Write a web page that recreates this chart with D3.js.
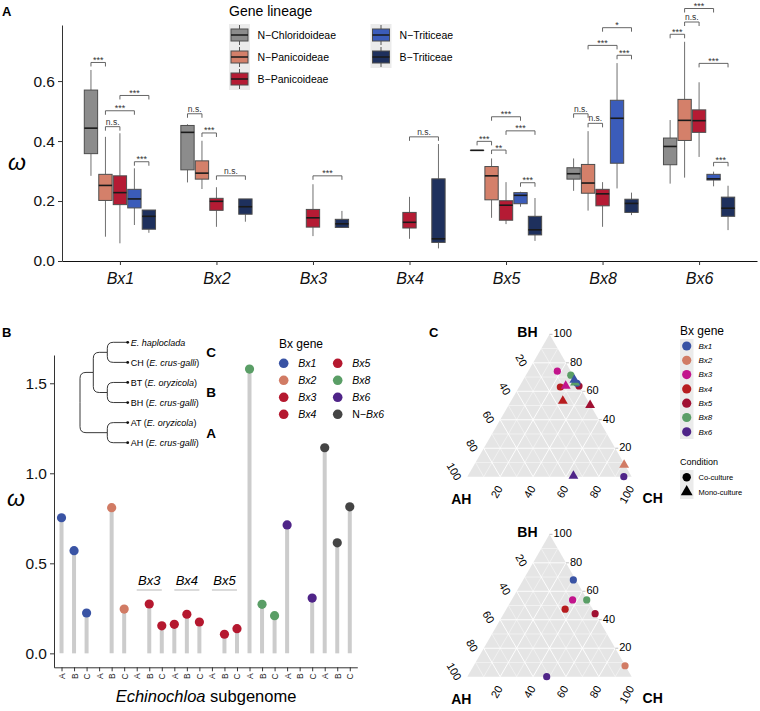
<!DOCTYPE html>
<html><head><meta charset="utf-8">
<script src="https://cdn.jsdelivr.net/npm/d3@7"></script>
<style>body{margin:0;background:#fff}svg{display:block}text{font-family:"Liberation Sans",Arial,Helvetica,sans-serif}</style>
</head><body><svg id="c" width="760" height="711"></svg>
<script>
// ---------------- Panel A data ----------------
const genesA = ["Bx1","Bx2","Bx3","Bx4","Bx5","Bx8","Bx6"];
const lineages = ["N-Chloridoideae","N-Panicoideae","B-Panicoideae","N-Triticeae","B-Triticeae"];
const lineageLabels = ["N\u2212Chloridoideae","N\u2212Panicoideae","B\u2212Panicoideae","N\u2212Triticeae","B\u2212Triticeae"];
const lineageColors = ["#8c8c8c","#d4806a","#b51b34","#3b5cba","#1e305d"];
const boxGene    = ["Bx1","Bx1","Bx1","Bx1","Bx1","Bx2","Bx2","Bx2","Bx2","Bx3","Bx3","Bx4","Bx4","Bx5","Bx5","Bx5","Bx5","Bx5","Bx8","Bx8","Bx8","Bx8","Bx8","Bx6","Bx6","Bx6","Bx6","Bx6"];
const boxLineage = [0,1,2,3,4, 0,1,2,4, 2,4, 2,4, 0,1,2,3,4, 0,1,2,3,4, 0,1,2,3,4];
const boxMin = [0.284,0.081,0.059,0.120,0.094, 0.262,0.240,0.114,0.131, 0.083,0.110, 0.074,0.042, 0.369,0.144,0.123,0.181,0.067, 0.234,0.168,0.114,0.242,0.153, 0.258,0.278,0.347,0.249,0.103];
const boxQ1  = [0.358,0.202,0.188,0.177,0.106, 0.304,0.273,0.169,0.156, 0.113,0.112, 0.110,0.062, 0.369,0.204,0.136,0.191,0.087, 0.273,0.226,0.184,0.326,0.162, 0.321,0.402,0.429,0.270,0.149];
const boxMed = [0.443,0.252,0.228,0.207,0.149, 0.429,0.293,0.199,0.181, 0.144,0.124, 0.129,0.074, 0.369,0.284,0.186,0.219,0.104, 0.291,0.260,0.224,0.476,0.192, 0.382,0.469,0.468,0.274,0.176];
const boxQ3  = [0.570,0.289,0.284,0.239,0.170, 0.452,0.334,0.209,0.207, 0.172,0.139, 0.162,0.274, 0.369,0.315,0.201,0.228,0.149, 0.311,0.322,0.239,0.536,0.206, 0.410,0.539,0.504,0.289,0.213];
const boxMax = [0.637,0.414,0.426,0.309,0.170, 0.456,0.401,0.246,0.207, 0.256,0.167, 0.214,0.390, 0.369,0.342,0.263,0.231,0.210, 0.342,0.433,0.263,0.660,0.228, 0.470,0.731,0.596,0.298,0.251];
// significance brackets
const sigGene = ["Bx1","Bx1","Bx1","Bx1","Bx1","Bx2","Bx2","Bx2","Bx3","Bx4","Bx5","Bx5","Bx5","Bx5","Bx5","Bx8","Bx8","Bx8","Bx8","Bx8","Bx6","Bx6","Bx6","Bx6","Bx6"];
const sigFrom = [0,1,1,2,3, 0,1,2, 2, 2, 0,1,1,2,3, 0,1,1,2,3, 0,1,1,2,3];
const sigTo   = [1,2,3,4,4, 1,2,4, 4, 4, 1,2,3,4,4, 1,2,3,4,4, 1,2,3,4,4];
const sigY    = [0.662,0.448,0.501,0.552,0.331, 0.491,0.427,0.284, 0.284, 0.414, 0.399,0.370,0.481,0.434,0.261, 0.491,0.459,0.719,0.778,0.686, 0.756,0.797,0.842,0.659,0.329];
const sigLab  = ["***","n.s.","***","***","***", "n.s.","***","n.s.", "***", "n.s.", "***","**","***","***","***", "n.s.","n.s.","***","*","***", "***","n.s.","***","***","***"];
const yTicksA = [0, 0.2, 0.4, 0.6];

// ---------------- Panel B data ----------------
const lolliGenes = ["Bx1","Bx2","Bx3","Bx4","Bx5","Bx8","Bx6","N-Bx6"];
const subgenomes = ["A","B","C"];
const lolliA = [0.753, null, null, 0.161, null, 1.579, 0.713, 1.142];
const lolliB = [0.570, 0.809, 0.274, 0.217, 0.106, 0.272, null, 0.614];
const lolliC = [0.224, 0.246, 0.153, 0.174, 0.137, 0.209, 0.307, 0.814];
const lolliColors = ["#3953a4","#d17b64","#b5182f","#b5182f","#b5182f","#5a9e66","#4f2488","#444444"];
const lolliLegend = ["Bx1","Bx2","Bx3","Bx4","Bx5","Bx8","Bx6","N\u2212Bx6"];
const labelledGenes = ["Bx3","Bx4","Bx5"];
const yTicksB = [0, 0.5, 1.0, 1.5];
// tree (branch lengths)
const tree = {name:"root", len:0, children:[
  {name:"CB", len:0.133, children:[
    {name:"C", len:0.14, children:[{name:"E. haploclada", len:0.204},{name:"CH", sp:"E. crus-galli", len:0.204}]},
    {name:"B", len:0.14, children:[{name:"BT", sp:"E. oryzicola", len:0.204},{name:"BH", sp:"E. crus-galli", len:0.204}]}
  ]},
  {name:"A", len:0.273, children:[{name:"AT", sp:"E. oryzicola", len:0.204},{name:"AH", sp:"E. crus-galli", len:0.204}]}
]};
const cladeLabels = ["C","B","A"];

// ---------------- Panel C data ----------------
const ternGenes = ["Bx1","Bx2","Bx3","Bx4","Bx5","Bx8","Bx6"];
const ternColors = ["#3953a4","#d17b64","#c2148c","#b71c1f","#a01032","#5a9e66","#4f2488"];
// top plot
const t1Gene = ["Bx3","Bx8","Bx4","Bx5","Bx1","Bx6","Bx8","Bx1","Bx3","Bx4","Bx5","Bx2","Bx6"];
const t1Cond = ["Co","Co","Co","Co","Co","Co","Mono","Mono","Mono","Mono","Mono","Mono","Mono"];
const t1AH = [0.082,0.014,0.119,0.002,0.005,0.048, 0.014,0.009,0.083,0.153,0.002,0.005,0.352];
const t1BH = [0.741,0.713,0.630,0.637,0.656,0.000, 0.661,0.680,0.637,0.532,0.502,0.082,0.005];
const t1CH = [0.177,0.273,0.251,0.361,0.339,0.952, 0.325,0.311,0.280,0.315,0.496,0.913,0.643];
// bottom plot
const t2Gene = ["Bx1","Bx3","Bx8","Bx4","Bx5","Bx2","Bx6"];
const t2AH = [0.015,0.090,0.004,0.168,0.001,0.002,0.517];
const t2BH = [0.680,0.539,0.539,0.474,0.443,0.077,0.000];
const t2CH = [0.305,0.371,0.457,0.358,0.556,0.921,0.483];
const ternTicks = [20,40,60,80,100];
const conditions = ["Co-culture","Mono-culture"];

const svg = d3.select("#c");
const FONT = '"Liberation Sans",Arial,sans-serif';

// ================= PANEL A =================
const gA = svg.append("g");
const xA = d3.scalePoint().domain(genesA).range([62,757]).padding(0.6);
const yA = d3.scaleLinear().domain([0,0.787]).range([261,25]);
const slot = d3.scaleBand().domain(d3.range(5)).range([-0.375*xA.step(), 0.375*xA.step()]);
const cxA = (g,l) => xA(g) + slot(l) + slot.bandwidth()/2;
const bwA = slot.bandwidth()*0.92;

boxGene.forEach((g,i)=>{
  const cx = cxA(g, boxLineage[i]);
  const grp = gA.append("g");
  grp.append("line").attr("x1",cx).attr("x2",cx).attr("y1",yA(boxMax[i])).attr("y2",yA(boxQ3[i])).attr("stroke","#707070").attr("stroke-width",1);
  grp.append("line").attr("x1",cx).attr("x2",cx).attr("y1",yA(boxQ1[i])).attr("y2",yA(boxMin[i])).attr("stroke","#707070").attr("stroke-width",1);
  grp.append("rect").attr("x",cx-bwA/2).attr("width",bwA).attr("y",yA(boxQ3[i])).attr("height",Math.max(0.01,yA(boxQ1[i])-yA(boxQ3[i])))
     .attr("fill",lineageColors[boxLineage[i]]).attr("stroke","#4d4d4d").attr("stroke-width",1);
  grp.append("line").attr("x1",cx-bwA/2).attr("x2",cx+bwA/2).attr("y1",yA(boxMed[i])).attr("y2",yA(boxMed[i])).attr("stroke","#1a1a1a").attr("stroke-width",1.6);
});

sigGene.forEach((g,i)=>{
  const x1 = cxA(g,sigFrom[i]), x2 = cxA(g,sigTo[i]), y = yA(sigY[i]);
  gA.append("path").attr("d",`M${x1},${y+4}V${y}H${x2}V${y+4}`).attr("fill","none").attr("stroke","#555").attr("stroke-width",0.9);
  gA.append("text").attr("x",(x1+x2)/2).attr("y", sigLab[i]==="n.s."? y-2 : y+0.5).attr("text-anchor","middle")
    .attr("font-size", sigLab[i]==="n.s."? 8.5 : 9).attr("fill","#333").text(sigLab[i]);
});

const axA = gA.append("g").attr("transform","translate(62,0)")
  .call(d3.axisLeft(yA).tickValues(yTicksA).tickFormat(d3.format(".1f")).tickSize(4).tickSizeOuter(0));
axA.selectAll("text").attr("font-size",15.5).attr("fill","#111").attr("font-family",FONT);
axA.selectAll("line,path").attr("stroke","#333");
const axAx = gA.append("g").attr("transform","translate(0,261)")
  .call(d3.axisBottom(xA).tickSize(4).tickSizeOuter(0));
axAx.selectAll("text").attr("font-size",16).attr("font-style","italic").attr("fill","#111").attr("dy","1.0em").attr("font-family",FONT);
axAx.selectAll("line").attr("stroke","#333");
axAx.select("path").attr("stroke","#111").attr("stroke-width",1.2);
gA.append("text").attr("x",17).attr("y",170).attr("text-anchor","middle").attr("font-size",23).attr("font-style","italic").text("\u03c9");
gA.append("text").attr("x",2).attr("y",16).attr("font-size",13).attr("font-weight","bold").text("A");

// legend A
const lg = gA.append("g");
lg.append("text").attr("x",229).attr("y",16).attr("font-size",14).text("Gene lineage");
lg.append("rect").attr("x",229).attr("y",24).attr("width",21).attr("height",66).attr("fill","#ebebeb");
lg.append("rect").attr("x",370.5).attr("y",24).attr("width",21).attr("height",44).attr("fill","#ebebeb");
lineages.forEach((l,i)=>{
  const col = i<3?0:1, row = i<3?i:i-3;
  const kx = col===0?239.5:381, ky = 35 + row*22;
  lg.append("line").attr("x1",kx).attr("x2",kx).attr("y1",ky-10).attr("y2",ky+10).attr("stroke","#555");
  lg.append("rect").attr("x",kx-8.5).attr("y",ky-6).attr("width",17).attr("height",12).attr("fill",lineageColors[i]).attr("stroke","#4d4d4d");
  lg.append("line").attr("x1",kx-8.5).attr("x2",kx+8.5).attr("y1",ky).attr("y2",ky).attr("stroke","#1a1a1a").attr("stroke-width",1.5);
  lg.append("text").attr("x",col===0?257.5:399.5).attr("y",ky).attr("dy","0.36em").attr("font-size",10.5).text(lineageLabels[i]);
});

// ================= PANEL B =================
const gB = svg.append("g");
const lolliKeys = [];
lolliGenes.forEach(g=>subgenomes.forEach(s=>lolliKeys.push(g+"|"+s)));
const xB = d3.scalePoint().domain(lolliKeys).range([54,357.3]).padding(0.6);
const yB = d3.scaleLinear().domain([-0.0775,1.657]).range([667.3,355]);
const lolliVals = [lolliA, lolliB, lolliC];
lolliGenes.forEach((g,gi)=>{
  subgenomes.forEach((s,si)=>{
    const v = lolliVals[si][gi];
    if(v===null) return;
    const x = xB(g+"|"+s);
    gB.append("line").attr("x1",x).attr("x2",x).attr("y1",yB(0)).attr("y2",yB(v)).attr("stroke","#cccccc").attr("stroke-width",4);
  });
});
lolliGenes.forEach((g,gi)=>{
  subgenomes.forEach((s,si)=>{
    const v = lolliVals[si][gi];
    if(v===null) return;
    gB.append("circle").attr("cx",xB(g+"|"+s)).attr("cy",yB(v)).attr("r",4.6).attr("fill",lolliColors[gi]);
  });
});
labelledGenes.forEach(g=>{
  const xa = xB(g+"|A"), xc = xB(g+"|C");
  gB.append("line").attr("x1",xa).attr("x2",xc).attr("y1",590).attr("y2",590).attr("stroke","#c8c8c8").attr("stroke-width",1.3);
  gB.append("text").attr("x",(xa+xc)/2).attr("y",585).attr("text-anchor","middle").attr("font-size",13).attr("font-style","italic").text(g);
});
const axB = gB.append("g").attr("transform","translate(54,0)")
  .call(d3.axisLeft(yB).tickValues(yTicksB).tickFormat(d3.format(".1f")).tickSize(4).tickSizeOuter(0));
axB.selectAll("text").attr("font-size",15.5).attr("fill","#111").attr("font-family",FONT);
axB.selectAll("line,path").attr("stroke","#333");
const axBx = gB.append("g").attr("transform","translate(0,667.3)")
  .call(d3.axisBottom(xB).tickSize(4).tickSizeOuter(0).tickFormat(d=>d.split("|")[1]));
axBx.selectAll("line,path").attr("stroke","#333");
axBx.selectAll("text").attr("font-size",8.5).attr("fill","#222").attr("font-family",FONT)
  .attr("transform","rotate(-90)").attr("text-anchor","end").attr("x",-6).attr("y",0).attr("dy","0.35em");
const xt = gB.append("text").attr("x",206).attr("y",702).attr("text-anchor","middle").attr("font-size",16.5);
xt.append("tspan").attr("font-style","italic").text("Echinochloa");
xt.append("tspan").text(" subgenome");
gB.append("text").attr("x",16).attr("y",506).attr("text-anchor","middle").attr("font-size",23).attr("font-style","italic").text("\u03c9");
gB.append("text").attr("x",2).attr("y",337).attr("font-size",13).attr("font-weight","bold").text("B");

// legend B
gB.append("text").attr("x",279).attr("y",347.5).attr("font-size",12).text("Bx gene");
lolliLegend.forEach((l,i)=>{
  const col = Math.floor(i/4), row = i%4;
  const kx = col===0?283.7:337.7, ky = 363.3 + row*17;
  gB.append("circle").attr("cx",kx).attr("cy",ky).attr("r",4.8).attr("fill",lolliColors[i]);
  const t = gB.append("text").attr("x",kx+14.5).attr("y",ky).attr("dy","0.36em").attr("font-size",10.5);
  if(l.startsWith("N")){ t.append("tspan").text("N\u2212"); t.append("tspan").attr("font-style","italic").text("Bx6"); }
  else t.attr("font-style","italic").text(l);
});

// dendrogram
const root = d3.hierarchy(tree);
const leaves = root.leaves();
const yLeaf = d3.scalePoint().domain(leaves.map(d=>d.data.name)).range([342.3,442.7]);
const xDepth = d3.scaleLinear().domain([0,0.477]).range([80,127.7]);
root.eachBefore(d=>{ d.dist = (d.parent? d.parent.dist:0) + d.data.len; });
root.eachAfter(d=>{ d.py = d.children ? d3.mean([d.children[0].py, d.children[d.children.length-1].py]) : yLeaf(d.data.name); });
const tg = gB.append("g").attr("fill","none").attr("stroke","#222").attr("stroke-width",0.9);
root.descendants().forEach(d=>{
  if(!d.parent) return;
  const px = xDepth(d.parent.dist), py = d.parent.py, cx = xDepth(d.dist), cy = d.py;
  const r = Math.min(6, Math.abs(cy-py)), s = cy<py?1:-1;
  tg.append("path").attr("d",`M${px},${py}V${cy+s*r}Q${px},${cy} ${px+r},${cy}H${cx}`);
});
leaves.forEach(d=>{
  const x = xDepth(d.dist), y = d.py;
  gB.append("circle").attr("cx",x).attr("cy",y).attr("r",1.4).attr("fill","#111");
  const t = gB.append("text").attr("x",x+3).attr("y",y).attr("dy","0.36em").attr("font-size",9);
  if(d.data.sp){ t.append("tspan").text(d.data.name+" ("); t.append("tspan").attr("font-style","italic").text(d.data.sp); t.append("tspan").text(")"); }
  else t.attr("font-style","italic").text(d.data.name);
});
cladeLabels.forEach(c=>{
  const node = root.descendants().find(d=>d.data.name===c);
  gB.append("text").attr("x",211).attr("y",node.py).attr("dy","0.36em").attr("text-anchor","middle").attr("font-size",13.5).attr("font-weight","bold").text(c);
});

// ================= PANEL C =================
const gC = svg.append("g");
gC.append("text").attr("x",429).attr("y",337).attr("font-size",13).attr("font-weight","bold").text("C");
const tW = 164.4, tH = tW*Math.sqrt(3)/2;
function ternary(offY, pts){
  const g = gC.append("g");
  const xT = d3.scaleLinear().domain([0,1]).range([467.3, 467.3+tW]);
  const yT = d3.scaleLinear().domain([0,1]).range([476.7+offY, 476.7+offY-tH]);
  const P = (ah,bh,ch)=>[xT(ch+bh/2), yT(bh)];
  const tri = [P(1,0,0),P(0,1,0),P(0,0,1)];
  g.append("path").attr("d","M"+tri.join("L")+"Z").attr("fill","#e5e5e5");
  d3.range(1,10).forEach(k=>{
    const v = k/10, major = k%2===0;
    const lines = [[P(1-v,v,0),P(0,v,1-v)],[P(1-v,0,v),P(0,1-v,v)],[P(v,1-v,0),P(v,0,1-v)]];
    lines.forEach(l=>g.append("line").attr("x1",l[0][0]).attr("y1",l[0][1]).attr("x2",l[1][0]).attr("y2",l[1][1])
      .attr("stroke","#fff").attr("stroke-width",major?0.9:0.45));
  });
  ternTicks.forEach(t=>{
    const v = t/100;
    // BH on right edge
    let p = P(0,v,1-v);
    g.append("line").attr("x1",p[0]).attr("y1",p[1]).attr("x2",p[0]+3).attr("y2",p[1]).attr("stroke","#999").attr("stroke-width",0.6);
    g.append("text").attr("x",p[0]+4).attr("y",p[1]-1).attr("dy","0.36em").attr("font-size",11).text(t);
    // AH on left edge
    p = P(v,1-v,0);
    g.append("text").attr("transform",`translate(${p[0]-8.5},${p[1]+2.7}) rotate(60)`).attr("text-anchor","end").attr("dy","0.36em").attr("font-size",11).text(t);
    // CH on bottom edge
    p = P(1-v,0,v);
    g.append("text").attr("transform",`translate(${p[0]-0.5},${p[1]+9.8}) rotate(-60)`).attr("text-anchor","end").attr("dy","0.36em").attr("font-size",11).text(t);
  });
  g.append("text").attr("x",tri[1][0]-12).attr("y",tri[1][1]-2.5).attr("dy","0.36em").attr("text-anchor","end").attr("font-size",14).attr("font-weight","bold").text("BH");
  g.append("text").attr("x",tri[0][0]-6).attr("y",tri[0][1]+22).attr("dy","0.36em").attr("text-anchor","middle").attr("font-size",14).attr("font-weight","bold").text("AH");
  g.append("text").attr("x",tri[2][0]+21).attr("y",tri[2][1]+21.5).attr("dy","0.36em").attr("text-anchor","middle").attr("font-size",14).attr("font-weight","bold").text("CH");
  pts.forEach(d=>{
    const p = P(d.ah,d.bh,d.ch), col = ternColors[ternGenes.indexOf(d.gene)];
    if(d.cond==="Co") g.append("circle").attr("cx",p[0]).attr("cy",p[1]).attr("r",3.6).attr("fill",col);
    else g.append("path").attr("d",d3.symbol(d3.symbolTriangle,42)()).attr("transform",`translate(${p[0]},${p[1]})`).attr("fill",col);
  });
}
ternary(0, t1Gene.map((g,i)=>({gene:g,cond:t1Cond[i],ah:t1AH[i],bh:t1BH[i],ch:t1CH[i]})));
ternary(200, t2Gene.map((g,i)=>({gene:g,cond:"Co",ah:t2AH[i],bh:t2BH[i],ch:t2CH[i]})));

// legend C
gC.append("text").attr("x",680).attr("y",334.5).attr("font-size",12).text("Bx gene");
gC.append("rect").attr("x",680).attr("y",339).attr("width",13.5).attr("height",100).attr("fill","#ebebeb");
ternGenes.forEach((g,i)=>{
  const ky = 346 + i*14.3;
  gC.append("circle").attr("cx",686.7).attr("cy",ky).attr("r",4.6).attr("fill",ternColors[i]);
  gC.append("text").attr("x",698.5).attr("y",ky).attr("dy","0.36em").attr("font-size",8).attr("font-style","italic").text(g);
});
gC.append("text").attr("x",680).attr("y",465).attr("font-size",9).text("Condition");
gC.append("rect").attr("x",680).attr("y",470).attr("width",13.5).attr("height",29).attr("fill","#ebebeb");
conditions.forEach((c,i)=>{
  const ky = 477.3 + i*14.5;
  if(i===0) gC.append("circle").attr("cx",686.7).attr("cy",ky).attr("r",4.2).attr("fill","#000");
  else gC.append("path").attr("d",d3.symbol(d3.symbolTriangle,60)()).attr("transform",`translate(686.7,${ky})`).attr("fill","#000");
  gC.append("text").attr("x",698.5).attr("y",ky).attr("dy","0.36em").attr("font-size",7.5).text(c);
});
</script></body></html>
